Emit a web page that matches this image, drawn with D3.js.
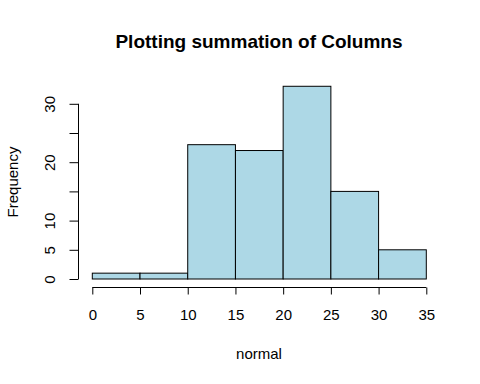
<!DOCTYPE html>
<html>
<head>
    <script src="https://d3js.org/d3.v7.min.js" charset="utf-8"></script>
    <style>
        body { margin: 0; background: white; }
        text { font-family: "Liberation Sans", Arial, sans-serif; }
    </style>
</head>
<body>
   <script>
        var binStarts = [0, 5, 10, 15, 20, 25, 30]
        var binWidth = 5
        var counts = [1, 1, 23, 22, 33, 15, 5]
        var xTicks = [0, 5, 10, 15, 20, 25, 30, 35]
        var yTicks = [0, 5, 10, 15, 20, 25, 30]
        var yLabels = [0, 5, 10, 20, 30]

        var svg = d3.select("body")
            .append("svg")
            .attr("width", 480)
            .attr("height", 384)
            .style("background", "white")

        var x = d3.scaleLinear().domain([0, 35]).range([92.3, 426.3])
        var y = d3.scaleLinear().domain([0, 30]).range([279, 103.8])

        // bars
        svg.append("g")
            .selectAll("rect")
            .data(binStarts)
            .enter()
            .append("rect")
            .attr("x", function (d) { return x(d); })
            .attr("width", function (d) { return x(d + binWidth) - x(d); })
            .attr("y", function (d, i) { return y(counts[i]); })
            .attr("height", function (d, i) { return y(0) - y(counts[i]); })
            .style("fill", "lightblue")
            .style("stroke", "black")
            .style("stroke-width", 1)

        // x axis
        var xAxis = d3.axisBottom(x).tickValues(xTicks).tickSize(7).tickPadding(14.5)
        var gx = svg.append("g")
            .attr("transform", "translate(0,287.5)")
            .call(xAxis)
        gx.select(".domain").attr("d", "M" + x(0) + ",0H" + x(35))
        gx.selectAll("text").style("font-size", "15px").style("fill", "black")

        // y axis
        var yAxis = d3.axisLeft(y).tickValues(yTicks).tickSize(9)
            .tickFormat(function (d) { return yLabels.indexOf(d) >= 0 ? d : ""; })
        var gy = svg.append("g")
            .attr("transform", "translate(78.5,0)")
            .call(yAxis)
        gy.select(".domain").attr("d", "M0," + y(0) + "V" + y(30))
        gy.selectAll("text")
            .attr("x", null)
            .attr("dy", null)
            .attr("transform", "translate(-23.5,0) rotate(-90)")
            .attr("text-anchor", "middle")
            .style("font-size", "15px")
            .style("fill", "black")

        svg.append("text")
            .attr("x", 259)
            .attr("y", 48)
            .attr("text-anchor", "middle")
            .style("font-size", "19px")
            .style("font-weight", "bold")
            .text("Plotting summation of Columns")

        svg.append("text")
            .attr("x", 259)
            .attr("y", 359)
            .attr("text-anchor", "middle")
            .style("font-size", "15px")
            .text("normal")

        svg.append("text")
            .attr("transform", "translate(18,182) rotate(-90)")
            .attr("text-anchor", "middle")
            .style("font-size", "15px")
            .text("Frequency")
    </script>
</body>
</html>
